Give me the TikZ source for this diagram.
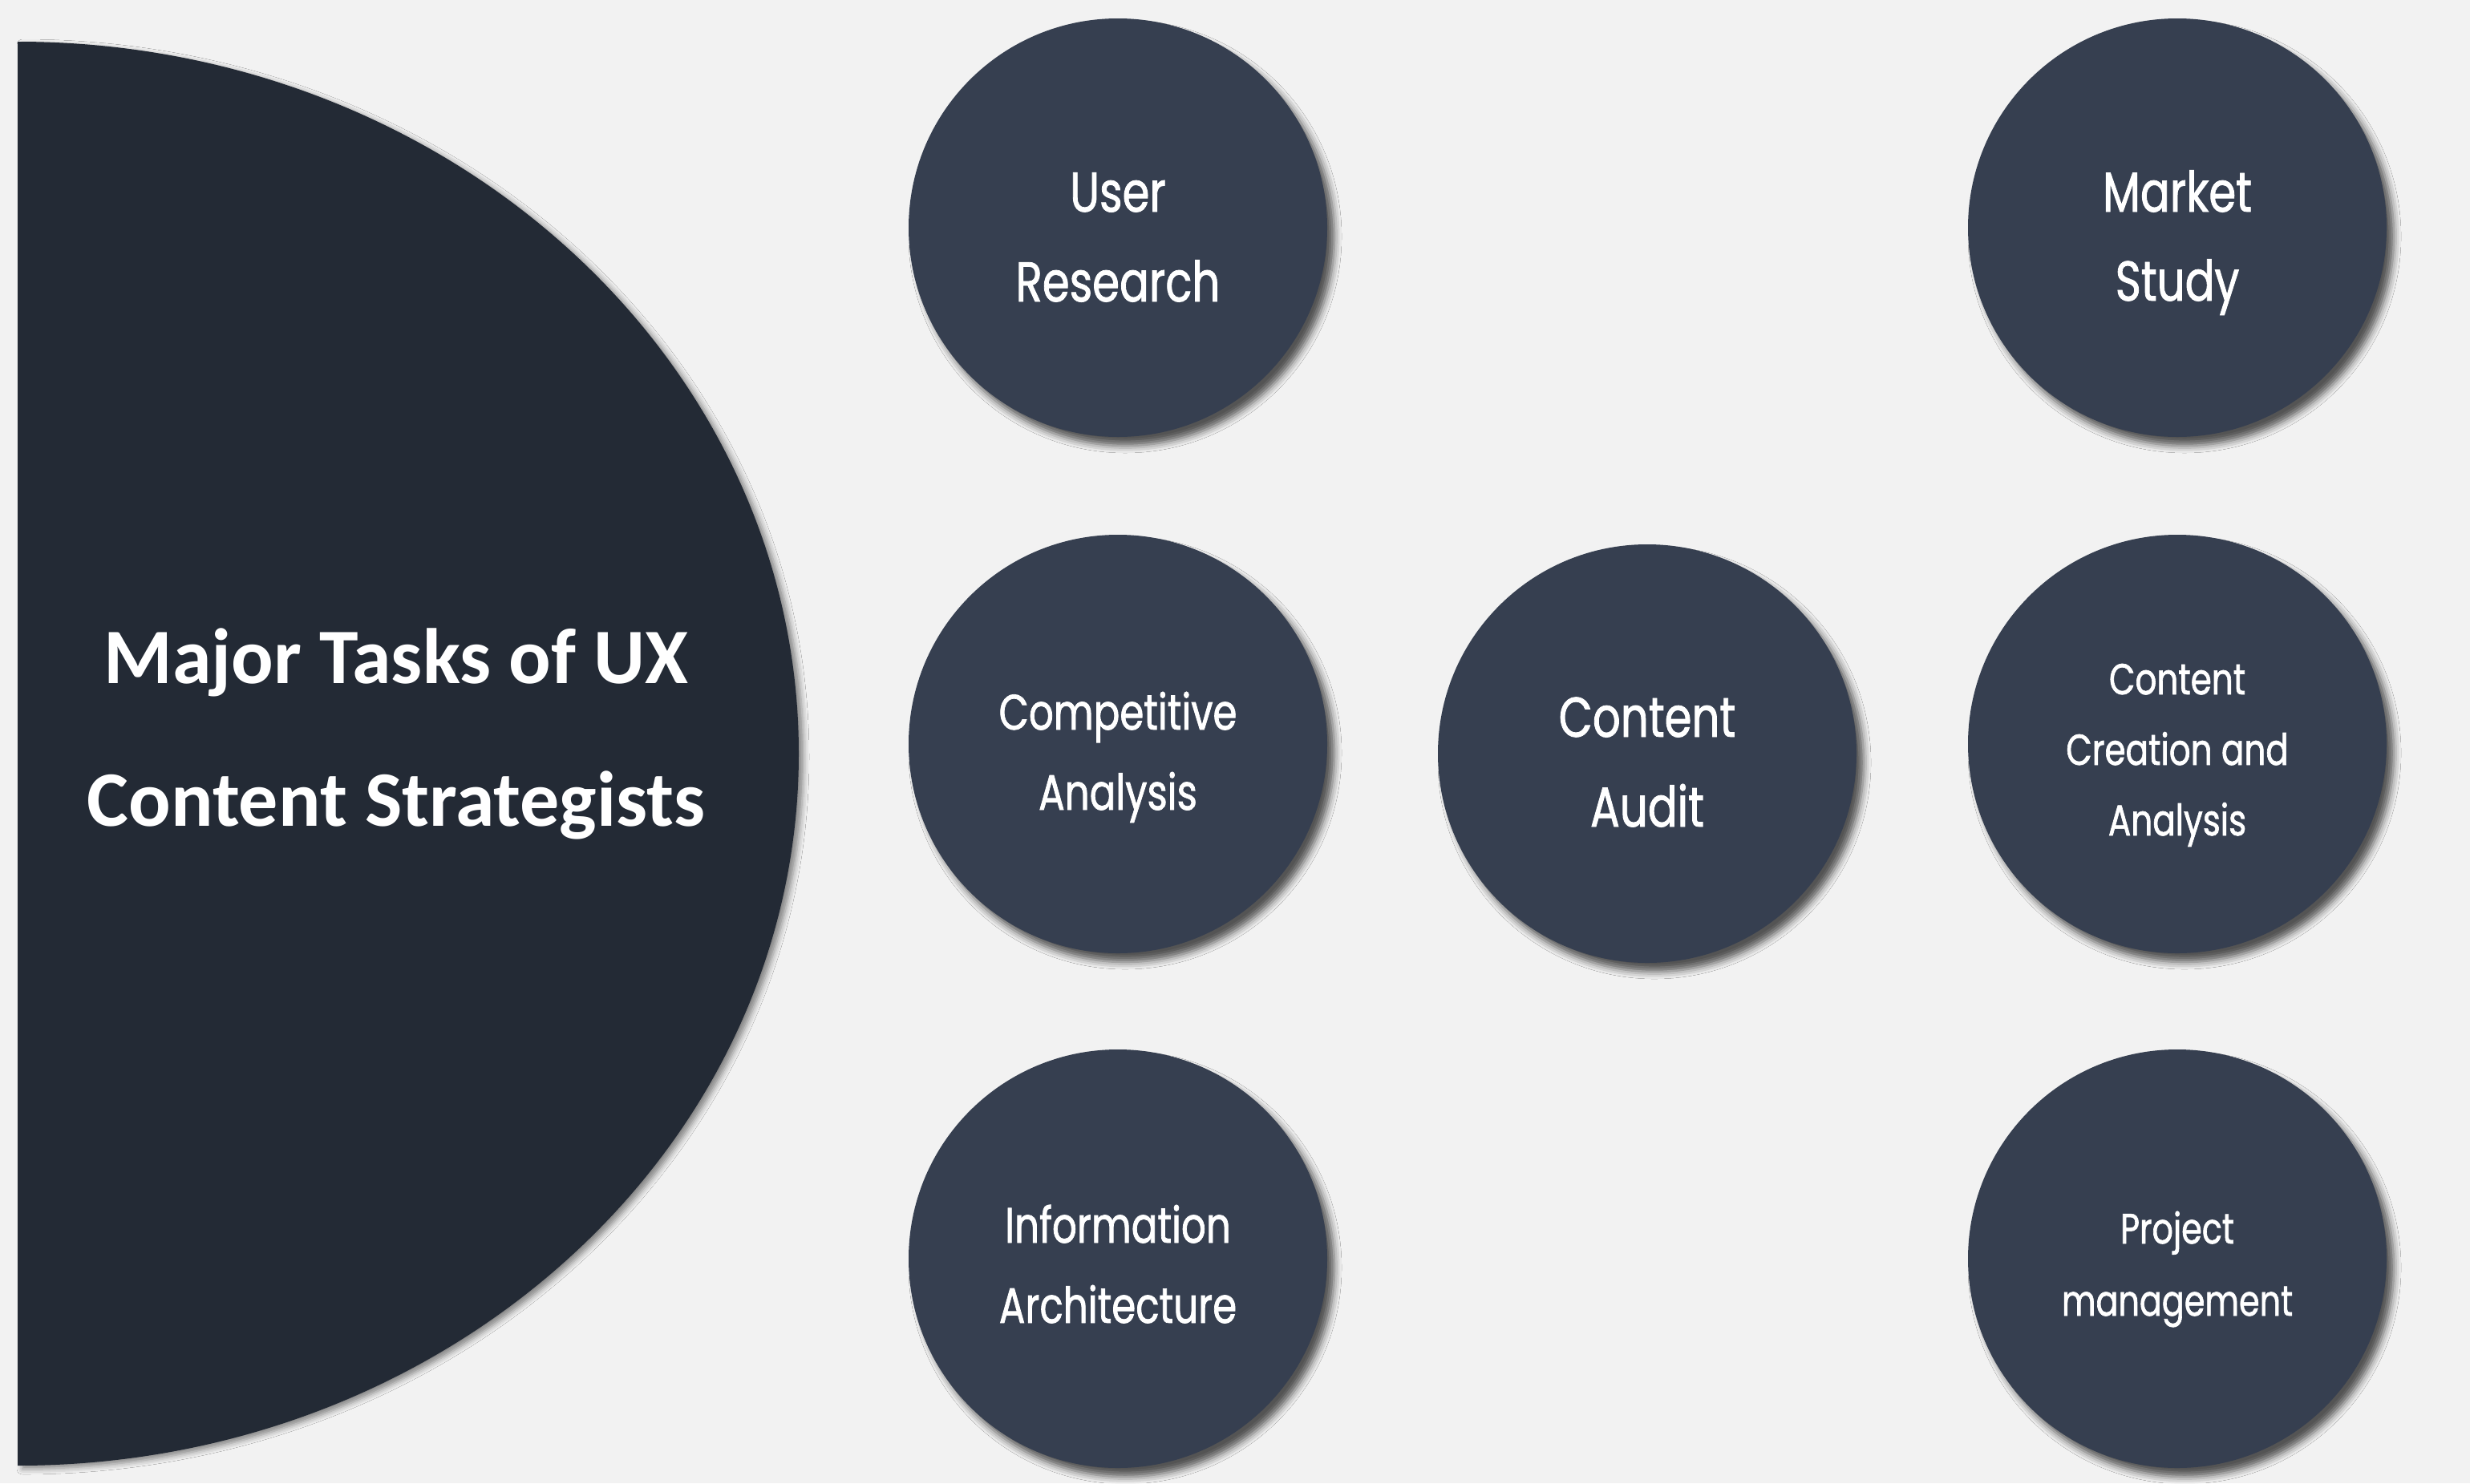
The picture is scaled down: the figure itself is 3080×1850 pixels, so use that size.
\documentclass[tikz,border=0pt]{standalone}
\usepackage{fontspec}
\setmainfont{Carlito}
\newfontfamily\circfont[FakeStretch=0.78,FakeBold=1.2]{Poppins}
\usetikzlibrary{shadows.blur}
\definecolor{bgc}{HTML}{F2F2F2}
\definecolor{halfc}{HTML}{232A35}
\definecolor{circc}{HTML}{363F50}
\tikzset{
  bubble/.style={circle, fill=circc, minimum size=522pt, inner sep=0pt,
    blur shadow={shadow xshift=9pt, shadow yshift=-11pt, shadow blur radius=9pt, shadow opacity=65}},
  bigtxt/.style={text=white, anchor=base, inner sep=0pt, font=\circfont\fontsize{70}{70}\selectfont},
  midtxt/.style={text=white, anchor=base, inner sep=0pt, font=\circfont\fontsize{62}{62}\selectfont},
  smtxt/.style={text=white, anchor=base, inner sep=0pt, font=\circfont\fontsize{53}{53}\selectfont},
  xstxt/.style={text=white, anchor=base, inner sep=0pt, font=\circfont\fontsize{54}{54}\selectfont},
  titletxt/.style={text=white, anchor=base, inner sep=0pt, font=\bfseries\fontsize{98}{98}\selectfont}
}
\begin{document}
\begin{tikzpicture}[x=1pt,y=-1pt]
\fill[bgc] (0,0) rectangle (3080,1850);
\useasboundingbox (0,0) rectangle (3080,1850);
% half disk
\fill[halfc, blur shadow={shadow xshift=6pt, shadow yshift=-4pt, shadow blur radius=7pt, shadow opacity=45}]
  (22,52) arc[start angle=-90, end angle=90, x radius=974, y radius=888] -- cycle;
\node[titletxt] (t1) at (494,852) {Major Tasks of UX};
\node[titletxt] (t2) at (494,1030) {Content Strategists};
% bubbles
\node[bubble] (ur) at (1394,284) {};
\node[bubble] (ms) at (2715,284) {};
\node[bubble] (ca) at (1394,928) {};
\node[bubble] (au) at (2054,940) {};
\node[bubble] (cc) at (2715,928) {};
\node[bubble] (ia) at (1394,1570) {};
\node[bubble] (pm) at (2715,1570) {};
% texts
\node[bigtxt] (ur1) at (1394,264) {User};
\node[bigtxt] (ur2) at (1394,376) {Research};
\node[bigtxt] (ms1) at (2715,264) {Market};
\node[bigtxt] (ms2) at (2715,375) {Study};
\node[midtxt] (ca1) at (1394,910) {Competitive};
\node[midtxt] (ca2) at (1394,1010) {Analysis};
\node[bigtxt] (au1) at (2054,919) {Content};
\node[bigtxt] (au2) at (2054,1031) {Audit};
\node[xstxt] (cc1) at (2715,866) {Content};
\node[xstxt] (cc2) at (2715,954) {Creation and};
\node[xstxt] (cc3) at (2715,1042) {Analysis};
\node[midtxt] (ia1) at (1394,1550) {Information};
\node[midtxt] (ia2) at (1394,1650) {Architecture};
\node[smtxt] (pm1) at (2715,1551) {Project};
\node[smtxt] (pm2) at (2715,1641) {management};
\end{tikzpicture}
\end{document}
